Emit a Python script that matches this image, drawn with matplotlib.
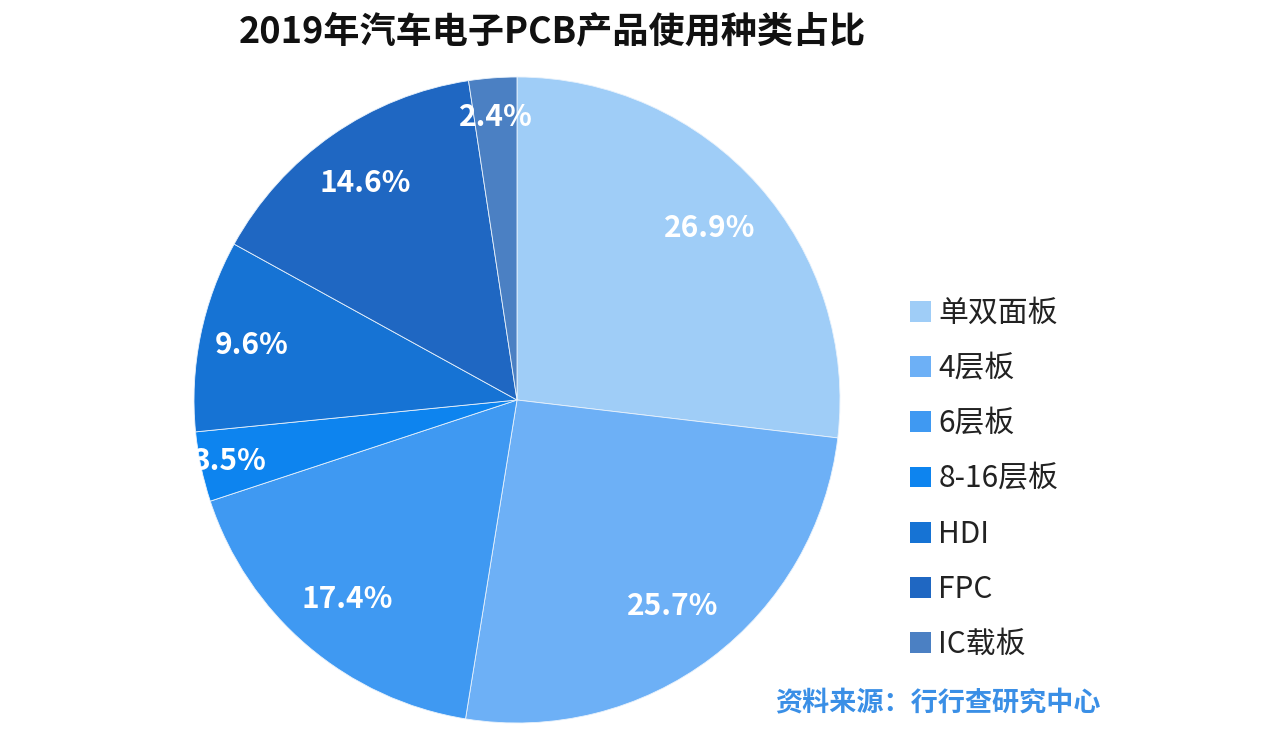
import matplotlib
matplotlib.use("Agg")
import matplotlib.pyplot as plt
import numpy as np
from matplotlib.patches import Patch

plt.rcParams["font.family"] = ["Noto Sans CJK SC", "DejaVu Sans"]

# data
categories = ["单双面板", "4层板", "6层板", "8-16层板", "HDI", "FPC", "IC载板"]
shares = [26.9, 25.7, 17.4, 3.5, 9.6, 14.6, 2.4]
colors = ["#9fcdf7", "#6db0f6", "#3f99f2", "#0d84ef", "#1673d4", "#1f67c2", "#4b80c3"]
label_dist = [0.80, 0.80, 0.81, 0.91, 0.84, 0.82, 0.88]

fig = plt.figure(figsize=(12.8, 7.3), dpi=100)
fig.patch.set_facecolor("white")

# pie axes: center ~ (517, 400) px, radius ~ 323 px
r = 323
cx, cy = 517, 730 - 400
ax = fig.add_axes([(cx - r) / 1280, (cy - r) / 730, 2 * r / 1280, 2 * r / 730])
wedges, _ = ax.pie(shares, colors=colors, startangle=90, counterclock=False,
                   wedgeprops=dict(edgecolor="#e8f2fc", linewidth=0.6))
ax.set_aspect("equal")
ax.set_xlim(-1, 1)
ax.set_ylim(-1, 1)

for w, v, d in zip(wedges, shares, label_dist):
    ang = np.deg2rad((w.theta1 + w.theta2) / 2)
    ax.text(d * np.cos(ang), d * np.sin(ang), f"{v}%", ha="center", va="center",
            color="white", fontsize=21.5, fontweight="semibold")

fig.text(552 / 1280, 1 - 32 / 730, "2019年汽车电子PCB产品使用种类占比",
         ha="center", va="center", fontsize=26, fontweight="bold", color="#111111")

handles = [Patch(facecolor=c, edgecolor="none") for c in colors]
leg = fig.legend(handles, categories, loc="upper left",
                 bbox_to_anchor=(883 / 1280, 1 - 271 / 730), frameon=False,
                 fontsize=21.5, handlelength=0.7, handleheight=0.7,
                 handletextpad=0.25, labelspacing=0.81)
for t in leg.get_texts():
    t.set_color("#222222")

fig.text(775 / 1280, 1 - 703 / 730, "资料来源：行行查研究中心", ha="left", va="center",
         fontsize=19.5, fontweight="bold", color="#3a8fe6")

fig.savefig("out.png", dpi=100)
